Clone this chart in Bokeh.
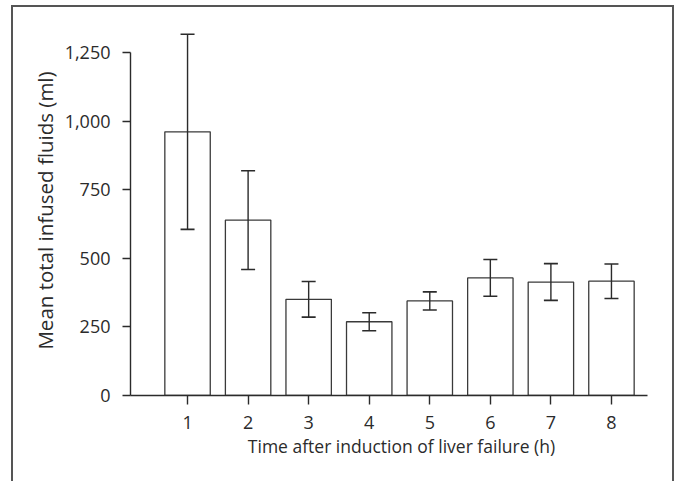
from bokeh.plotting import figure
from bokeh.models import ColumnDataSource, Whisker, TeeHead, FixedTicker, NumeralTickFormatter, Range1d
from bokeh.embed import file_html
from bokeh.resources import INLINE

# Data
hours = [1, 2, 3, 4, 5, 6, 7, 8]
means = [962, 640, 351, 269, 345, 429, 414, 417]
errors = [356, 180, 65, 33, 33, 67, 67, 63]
y_ticks = [0, 250, 500, 750, 1000, 1250]

lower = [m - e for m, e in zip(means, errors)]
upper = [m + e for m, e in zip(means, errors)]
src = ColumnDataSource(dict(x=hours, top=means, lower=lower, upper=upper))

FONT = "Open Sans"
INK = "#2b2b2b"

p = figure(
    frame_width=542, frame_height=370,
    min_border_left=117, min_border_right=0, min_border_top=18, min_border_bottom=86,
    x_range=Range1d(0.058, 9.008), y_range=Range1d(0, 1350),
    output_backend="svg", toolbar_location=None,
    background_fill_color="white", border_fill_color="white",
)
p.styles = {
    "position": "absolute",
    "left": "11px",
    "top": "5px",
    "border-left": "2px solid #555555",
    "border-top": "2px solid #555555",
    "border-right": "2px solid #555555",
}
p.outline_line_color = None
p.xgrid.visible = False
p.ygrid.visible = False

p.vbar(x="x", top="top", bottom=0, width=0.75, source=src,
       fill_color="white", line_color="#3a3a3a", line_width=1.3)

wh = Whisker(source=src, base="x", lower="lower", upper="upper",
             line_color=INK, line_width=1.4, level="overlay",
             upper_head=TeeHead(size=14, line_color=INK, line_width=1.6),
             lower_head=TeeHead(size=14, line_color=INK, line_width=1.6))
p.add_layout(wh)

for ax in (p.xaxis[0], p.yaxis[0]):
    ax.axis_line_color = INK
    ax.axis_line_width = 1.4
    ax.major_tick_line_color = INK
    ax.major_tick_line_width = 1.4
    ax.major_tick_in = 0
    ax.major_tick_out = 8
    ax.minor_tick_line_color = None
    ax.major_label_text_font = FONT
    ax.major_label_text_font_size = "18px"
    ax.major_label_text_color = INK
    ax.axis_label_text_font = FONT
    ax.axis_label_text_font_style = "normal"
    ax.axis_label_text_color = INK

p.xaxis.ticker = FixedTicker(ticks=hours)
p.xaxis.bounds = (0.058, 8.595)
p.xaxis.major_tick_out = 9
p.xaxis.major_label_standoff = 11
p.xaxis.axis_label = "Time after induction of liver failure (h)"
p.xaxis.axis_label_text_font_size = "17.5px"
p.xaxis.axis_label_standoff = 2

p.yaxis.ticker = FixedTicker(ticks=y_ticks)
p.yaxis.formatter = NumeralTickFormatter(format="0,0")
p.yaxis.bounds = (0, 1250)
p.yaxis.major_label_standoff = 12
p.yaxis.axis_label = "Mean total infused fluids (ml)"
p.yaxis.axis_label_text_font_size = "20.5px"
p.yaxis.axis_label_standoff = 3

open("out.html", "w").write(file_html(p, INLINE))
